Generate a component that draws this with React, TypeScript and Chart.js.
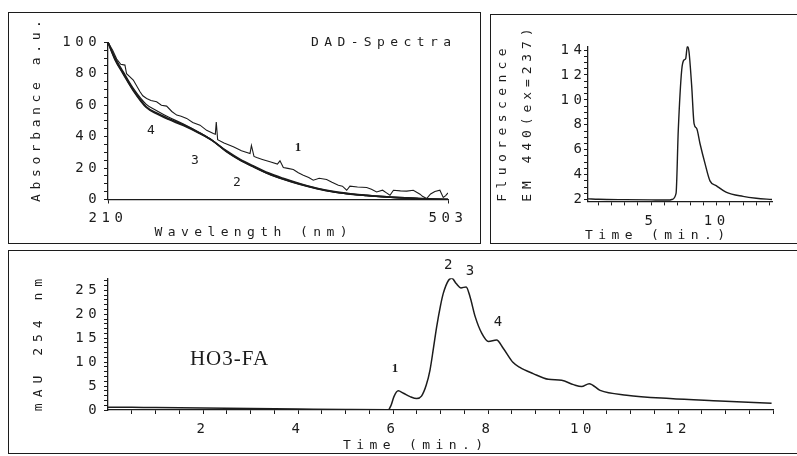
import React, { useEffect, useRef } from 'react';
import { Chart, registerables } from 'chart.js';

Chart.register(...registerables);

const MONO = '"DejaVu Sans Mono", monospace';
const SERIF = '"Liberation Serif", "Times New Roman", serif';
const INK = '#1c1c1c';

// ---------- DAD spectra (top left) ----------
const noisyWavelengths = [210, 214, 217.5, 221, 224.6, 226, 231.8, 237.6, 240, 243.3, 247, 251.9, 256, 260.5, 265, 269.2, 273, 277.8, 283, 289.3, 295, 300.8, 302.5, 303.3, 304.5, 310, 318, 325, 332.4, 333.6, 335.8, 338.1, 343, 349.6, 356, 358.2, 361.1, 365, 369.7, 374, 378.3, 383, 386.9, 392, 398.4, 403, 408.5, 412, 415.7, 418.5, 425, 432.9, 437, 441.5, 446.6, 450, 453, 456, 462, 467.4, 473.1, 478.9, 481, 484.6, 488, 491.7, 496, 498.9, 501, 503];
const spectrum1 = [100, 95, 89.4, 86, 85.5, 80, 76, 68.5, 66, 64.3, 63, 62.2, 60, 59.4, 56, 53.7, 53, 51.6, 49, 47.3, 44, 42, 41.5, 49.2, 38, 36, 33.5, 31, 29.3, 34.4, 27.4, 26.7, 25.5, 24, 22.5, 24.6, 20.4, 19.8, 19.1, 17, 15.5, 14, 12.3, 13.5, 12.7, 11, 9.1, 8.5, 5.9, 8.5, 8, 7.6, 6.5, 4.8, 5.9, 4.2, 2.7, 5.9, 5.5, 5.3, 5.9, 3.4, 2, 0.6, 3.5, 5.1, 5.9, 1.3, 2.5, 4.2];
const smoothWavelengths = [210, 216, 223, 232, 243, 252, 262, 275, 289, 300, 312, 324, 335, 348, 361, 375, 390, 405, 419, 433, 447, 461, 476, 490, 503];
const spectrum2 = [100, 89, 80, 69, 58.5, 54.5, 51, 47, 42, 37.5, 31, 25.5, 21.5, 17, 13.5, 10.2, 7.2, 5, 3.6, 2.6, 1.8, 1.2, 0.7, 0.3, 0.1];
const spectrum3 = [100, 89.5, 80.5, 69.5, 59, 55, 51.5, 47.5, 42.3, 37.5, 30.5, 25, 21, 16.5, 13, 9.8, 7, 4.8, 3.5, 2.6, 1.8, 1.2, 0.7, 0.3, 0.1];
const spectrum4 = [100, 90.5, 81.5, 70.5, 60.5, 56.5, 52.5, 48, 42.5, 37.5, 30.5, 25, 20.8, 16.3, 12.8, 9.6, 6.8, 4.6, 3.3, 2.4, 1.6, 1.0, 0.6, 0.2, 0];
const spectrumXTicks = [210, 503];
const spectrumLabels = ['1', '2', '3', '4'];
const spectrumLabelAt = [[373.7, 33.3], [321, 11], [285, 25], [247, 44]];

// ---------- Fluorescence (top right) ----------
const fluoTime = [0.2, 1, 3, 5, 6.4, 6.57, 6.9, 7.07, 7.33, 7.5, 7.63, 7.76, 7.88, 8.09, 8.27, 8.47, 8.72, 9.1, 9.48, 9.98, 10.7, 12.0, 13.0, 14.2];
const fluoValues = [2.05, 2.02, 1.99, 1.97, 1.96, 2.0, 2.5, 7.6, 12.4, 13.2, 13.3, 14.3, 13.9, 11.1, 8.1, 7.7, 6.5, 4.9, 3.5, 3.1, 2.6, 2.25, 2.1, 2.0];
const fluoXLabels = [5, 10];

// ---------- UV 254 nm chromatogram (bottom) ----------
const uvTime = [0, 0.5, 1, 2, 3, 4, 5, 5.9, 5.96, 6.02, 6.11, 6.22, 6.36, 6.5, 6.6, 6.7, 6.78, 6.85, 6.92, 7.0, 7.06, 7.17, 7.24, 7.33, 7.43, 7.54, 7.62, 7.73, 7.87, 8.01, 8.18, 8.32, 8.53, 8.67, 8.95, 9.27, 9.55, 9.8, 9.97, 10.13, 10.36, 10.92, 11.83, 12.88, 13.97];
const uvValues = [0.6, 0.55, 0.5, 0.4, 0.3, 0.2, 0.1, 0.05, 1.0, 2.8, 4.0, 3.5, 2.8, 2.4, 2.9, 5.2, 8.4, 12.8, 17.4, 21.8, 24.4, 27.1, 27.5, 26.4, 25.5, 25.7, 23.7, 19.5, 16, 14.3, 14.6, 12.9, 9.9, 8.9, 7.6, 6.4, 6.2, 5.3, 4.9, 5.5, 4.1, 3.1, 2.4, 1.9, 1.4];
const uvXLabels = [2, 4, 6, 8, 10, 12];
const uvYLabels = [0, 5, 10, 15, 20, 25];
const uvPeakLabels = ['1', '2', '3', '4'];
const uvPeakLabelAt = [[6.04, 8.7], [7.16, 30.2], [7.62, 28.9], [8.21, 18.2]];

type TextItem = {
  text: string;
  font: string;
  spacing: number;
  px?: [number, number];
  data?: number[];
  rot?: number;
};

const TICK_FONT = { family: MONO, size: 14 };
const TICK_SPACING = 4.6;
const TITLE_FONT = `13px ${MONO}`;

function textPlugin(items: TextItem[]) {
  return {
    id: 'texts',
    beforeUpdate(chart: any) {
      chart.ctx.letterSpacing = TICK_SPACING + 'px';
    },
    beforeDraw(chart: any) {
      chart.ctx.letterSpacing = TICK_SPACING + 'px';
    },
    afterDraw(chart: any) {
      const ctx = chart.ctx;
      for (const it of items) {
        ctx.save();
        ctx.letterSpacing = it.spacing + 'px';
        ctx.font = it.font;
        ctx.fillStyle = INK;
        ctx.textAlign = 'center';
        ctx.textBaseline = 'middle';
        let x = 0;
        let y = 0;
        if (it.data) {
          x = chart.scales.x.getPixelForValue(it.data[0]);
          y = chart.scales.y.getPixelForValue(it.data[1]);
        } else if (it.px) {
          x = it.px[0];
          y = it.px[1];
        }
        ctx.translate(x, y);
        if (it.rot) ctx.rotate(it.rot);
        ctx.fillText(it.text, it.spacing / 2, 0);
        ctx.restore();
      }
    },
  };
}

function axisCommon(extra: any) {
  return {
    type: 'linear',
    grid: { display: true, drawOnChartArea: false, drawTicks: true, tickLength: 4, color: INK, lineWidth: 1 },
    border: { display: true, color: INK, width: 1.3 },
    title: { display: false },
    ...extra,
  };
}

function range(a: number, b: number, step: number) {
  const out: number[] = [];
  for (let v = a; v <= b + 1e-9; v += step) out.push(Math.round(v * 1000) / 1000);
  return out;
}

function useChart(ref: React.RefObject<HTMLCanvasElement>, make: () => any) {
  useEffect(() => {
    if (!ref.current) return;
    const chart = new Chart(ref.current, make());
    return () => chart.destroy();
  }, []);
}

function toPoints(xs: number[], ys: number[]) {
  return xs.map((x, i) => ({ x, y: ys[i] }));
}

const xTicks = (padding: number, callback?: (v: number) => string) => ({
  color: INK, font: TICK_FONT, autoSkip: false, maxRotation: 0, minRotation: 0, padding, ...(callback ? { callback } : {}),
});
const yTicks = (padding: number, callback: (v: number) => string) => ({
  color: INK, font: TICK_FONT, autoSkip: false, padding, callback,
});

function SpectraPanel() {
  const ref = useRef<HTMLCanvasElement>(null);
  useChart(ref, () => ({
    type: 'line',
    data: {
      datasets: [
        { label: '1', data: toPoints(noisyWavelengths, spectrum1), borderColor: INK, borderWidth: 1.1, pointRadius: 0, tension: 0 },
        { label: '2', data: toPoints(smoothWavelengths, spectrum2), borderColor: INK, borderWidth: 1.6, pointRadius: 0, cubicInterpolationMode: 'monotone' },
        { label: '3', data: toPoints(smoothWavelengths, spectrum3), borderColor: INK, borderWidth: 1.6, pointRadius: 0, cubicInterpolationMode: 'monotone' },
        { label: '4', data: toPoints(smoothWavelengths, spectrum4), borderColor: INK, borderWidth: 1.2, pointRadius: 0, cubicInterpolationMode: 'monotone' },
      ],
    },
    options: {
      animation: false,
      responsive: false,
      layout: { padding: { left: 0, right: 32, top: 29.3, bottom: 0 } },
      plugins: { legend: { display: false }, tooltip: { enabled: false } },
      scales: {
        x: axisCommon({
          min: 210,
          max: 503,
          afterBuildTicks: (s: any) => { s.ticks = spectrumXTicks.map((v) => ({ value: v })); },
          afterFit: (s: any) => { s.height = 43.5; },
          ticks: xTicks(6.5),
        }),
        y: axisCommon({
          min: 0,
          max: 100,
          afterBuildTicks: (s: any) => { s.ticks = range(0, 100, 5).map((v) => ({ value: v })); },
          afterFit: (s: any) => { s.width = 99; },
          ticks: yTicks(2.7, (v: number) => (v % 20 === 0 ? String(v) : '')),
        }),
      },
    },
    plugins: [
      textPlugin([
        { text: 'Absorbance a.u.', font: TITLE_FONT, spacing: 4.6, px: [28, 98], rot: -Math.PI / 2 },
        { text: 'Wavelength (nm)', font: TITLE_FONT, spacing: 5.4, px: [242, 220] },
        { text: 'DAD-Spectra', font: TITLE_FONT, spacing: 5.4, px: [372, 29.5] },
        ...spectrumLabels.map((t, i) => ({
          text: t,
          font: t === '1' ? `bold 13px ${SERIF}` : `13px ${MONO}`,
          spacing: 0,
          data: spectrumLabelAt[i],
        })),
      ]),
    ],
  }));
  return <canvas ref={ref} width={471} height={230} style={{ display: 'block' }} />;
}

function FluoPanel() {
  const ref = useRef<HTMLCanvasElement>(null);
  useChart(ref, () => ({
    type: 'line',
    data: {
      datasets: [
        { label: 'Fluorescence', data: toPoints(fluoTime, fluoValues), borderColor: INK, borderWidth: 1.4, pointRadius: 0, cubicInterpolationMode: 'monotone' },
      ],
    },
    options: {
      animation: false,
      responsive: false,
      layout: { padding: { left: 0, right: 27, top: 31.3, bottom: 0 } },
      plugins: { legend: { display: false }, tooltip: { enabled: false } },
      scales: {
        x: axisCommon({
          min: 0.2,
          max: 14.2,
          afterBuildTicks: (s: any) => { s.ticks = range(1, 14, 1).map((v) => ({ value: v })); },
          afterFit: (s: any) => { s.height = 41.6; },
          ticks: xTicks(7.5, (v: number) => (fluoXLabels.includes(v) ? String(v) : '')),
        }),
        y: axisCommon({
          min: 1.85,
          max: 14.3,
          afterBuildTicks: (s: any) => { s.ticks = range(2, 14, 0.5).map((v) => ({ value: v })); },
          afterFit: (s: any) => { s.width = 97; },
          ticks: yTicks(-2.6, (v: number) => (v % 2 === 0 ? String(v) : '')),
        }),
      },
    },
    plugins: [
      textPlugin([
        { text: 'Fluorescence', font: TITLE_FONT, spacing: 5.4, px: [12, 110], rot: -Math.PI / 2 },
        { text: 'EM 440(ex=237)', font: TITLE_FONT, spacing: 4.9, px: [37, 100], rot: -Math.PI / 2 },
        { text: 'Time (min.)', font: TITLE_FONT, spacing: 5.4, px: [164, 221] },
      ]),
    ],
  }));
  return <canvas ref={ref} width={308} height={228} style={{ display: 'block' }} />;
}

function UvPanel() {
  const ref = useRef<HTMLCanvasElement>(null);
  useChart(ref, () => ({
    type: 'line',
    data: {
      datasets: [
        { label: 'mAU 254 nm', data: toPoints(uvTime, uvValues), borderColor: INK, borderWidth: 1.5, pointRadius: 0, cubicInterpolationMode: 'monotone' },
      ],
    },
    options: {
      animation: false,
      responsive: false,
      layout: { padding: { left: 0, right: 26, top: 27.3, bottom: 0 } },
      plugins: { legend: { display: false }, tooltip: { enabled: false } },
      scales: {
        x: axisCommon({
          min: 0,
          max: 14,
          afterBuildTicks: (s: any) => { s.ticks = range(0.5, 14, 0.5).map((v) => ({ value: v })); },
          afterFit: (s: any) => { s.height = 43; },
          ticks: xTicks(7, (v: number) => (uvXLabels.includes(v) ? String(v) : '')),
        }),
        y: axisCommon({
          min: 0,
          max: 27.5,
          afterBuildTicks: (s: any) => { s.ticks = range(0, 27, 1).map((v) => ({ value: v })); },
          afterFit: (s: any) => { s.width = 99; },
          ticks: yTicks(2.7, (v: number) => (uvYLabels.includes(v) ? String(v) : '')),
        }),
      },
    },
    plugins: [
      textPlugin([
        { text: 'mAU 254 nm', font: TITLE_FONT, spacing: 6, px: [30, 94], rot: -Math.PI / 2 },
        { text: 'Time (min.)', font: TITLE_FONT, spacing: 5.4, px: [404, 195] },
        { text: 'HO3-FA', font: `21px ${SERIF}`, spacing: 1, px: [220, 108] },
        ...uvPeakLabels.map((t, i) => ({
          text: t,
          font: t === '1' ? `bold 13px ${SERIF}` : `14px ${MONO}`,
          spacing: 0,
          data: uvPeakLabelAt[i],
        })),
      ]),
    ],
  }));
  return <canvas ref={ref} width={790} height={202} style={{ display: 'block' }} />;
}

const boxStyle = (left: number, top: number, width: number, height: number): React.CSSProperties => ({
  position: 'fixed',
  left,
  top,
  width,
  height,
  border: `1px solid ${INK}`,
  boxSizing: 'border-box',
  background: '#fff',
});

export default function App() {
  return (
    <div style={{ position: 'fixed', left: 0, top: 0, width: 797, height: 456, background: '#fff', overflow: 'hidden' }}>
      <div style={boxStyle(8, 12, 473, 232)}>
        <SpectraPanel />
      </div>
      <div style={boxStyle(490, 14, 310, 230)}>
        <FluoPanel />
      </div>
      <div style={boxStyle(8, 250, 792, 204)}>
        <UvPanel />
      </div>
    </div>
  );
}
